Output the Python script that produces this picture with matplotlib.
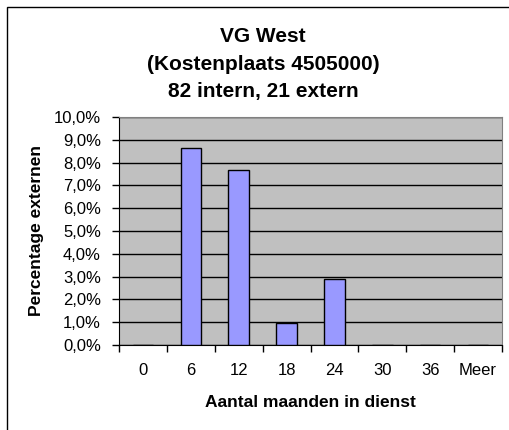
import matplotlib.pyplot as plt
from matplotlib.patches import Rectangle
from matplotlib.ticker import FuncFormatter, FixedLocator
import numpy as np

categorieen = ['0', '6', '12', '18', '24', '30', '36', 'Meer']
percentages = [0.0, 8.65, 7.69, 0.96, 2.88, 0.0, 0.0, 0.0]

plt.rcParams['font.family'] = ['Liberation Sans', 'DejaVu Sans']

W, H = 509, 430
fig = plt.figure(figsize=(W / 100, H / 100), dpi=100)
fig.patch.set_facecolor('white')

# plot area in pixels: left 119, right 502, top 117, bottom 345
ax = fig.add_axes([119 / W, 1 - 345 / H, (502 - 119) / W, (345 - 117) / H])
ax.set_facecolor('#C0C0C0')

x = np.arange(len(categorieen))
ax.bar(x, percentages, width=0.43, color='#9999FF', edgecolor='black', linewidth=1, zorder=3)

ax.set_xlim(-0.5, len(categorieen) - 0.5)
ax.set_ylim(0, 10)
ax.set_yticks(np.arange(0, 10.01, 1))
ax.yaxis.set_major_formatter(FuncFormatter(lambda v, p: f'{v:.1f}%'.replace('.', ',')))
ax.yaxis.grid(True, color='black', linewidth=1, zorder=1)
ax.set_axisbelow(True)

# categorie labels in het midden, tickstreepjes op de grenzen
ax.set_xticks(x)
ax.set_xticklabels(categorieen)
ax.tick_params(axis='x', which='major', length=0, pad=13, labelsize=12)
ax.xaxis.set_minor_locator(FixedLocator(np.arange(-0.5, len(categorieen), 1)))
ax.tick_params(axis='x', which='minor', length=5, width=1, direction='out', color='black')
ax.tick_params(axis='y', length=5, width=1, direction='out', labelsize=12, pad=8)

for s in ['top', 'right']:
    ax.spines[s].set_color('#808080')
for s in ['left', 'bottom']:
    ax.spines[s].set_color('black')

ax.set_ylabel('Percentage externen', fontsize=12.5, fontweight='bold', labelpad=7)
ax.set_xlabel('Aantal maanden in dienst', fontsize=12.5, fontweight='bold', labelpad=12)

fig.text(263 / W, 1 - 64 / H, 'VG West\n(Kostenplaats 4505000)\n82 intern, 21 extern',
         ha='center', va='center', fontsize=15, fontweight='bold', linespacing=1.55)

# rand om de grafiek
fig.patches.append(Rectangle((7 / W, -0.05), 1.1, 1 - 7 / H + 0.05, transform=fig.transFigure,
                             fill=False, edgecolor='black', linewidth=1))

fig.savefig('out.png', dpi=100)
